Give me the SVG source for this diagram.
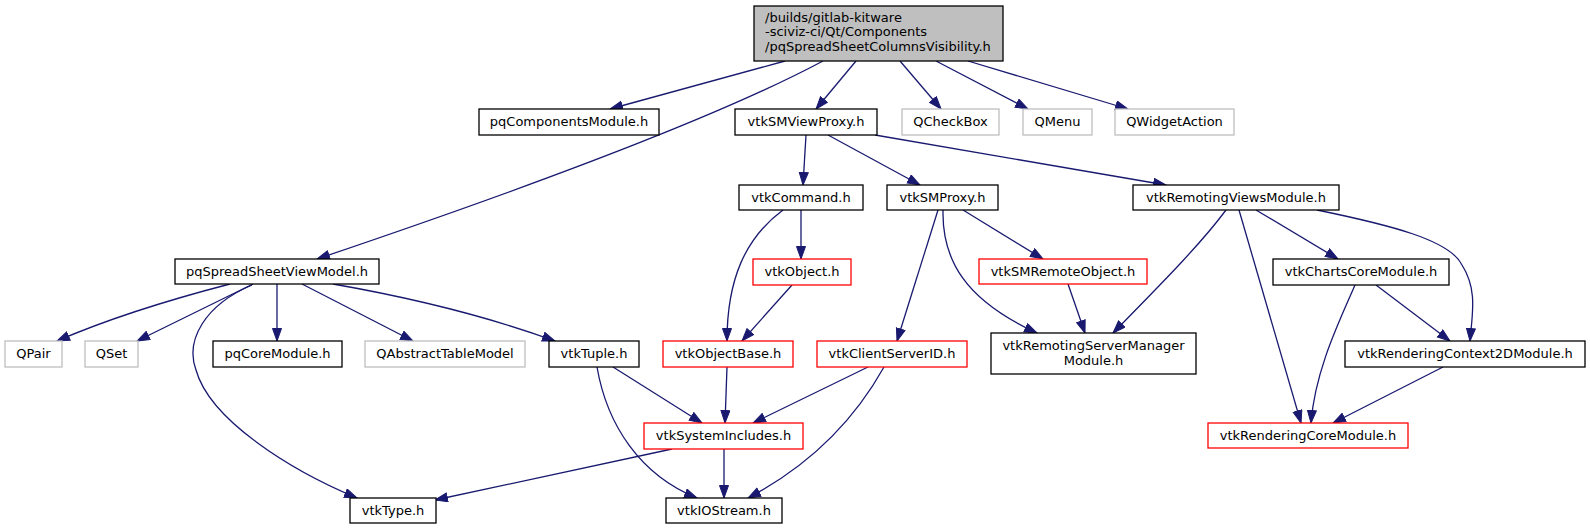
<svg xmlns="http://www.w3.org/2000/svg" width="1590" height="529" viewBox="0 0 1590 529">
<style>
text{font-family:"DejaVu Sans","Liberation Sans",sans-serif;font-size:13px;fill:#000}
.n rect{fill:#fff;stroke:#000;stroke-width:1.3}
.n text{text-anchor:middle}
.g rect{stroke:#bfbfbf}
.r rect{stroke:#ff0000}
.root rect{fill:#bfbfbf}
.root text{text-anchor:start}
#edges path{fill:none;stroke:#191970;stroke-width:1.3;marker-end:url(#ah)}
</style>
<defs>
<marker id="ah" markerWidth="15" markerHeight="11" refX="13" refY="5" orient="auto" markerUnits="userSpaceOnUse">
<path d="M0.5,0.5 L13,5 L0.5,9.5 z" fill="#191970" stroke="#191970" stroke-width="1"/>
</marker>
</defs>
<rect width="1590" height="529" fill="#fff"/>
<g id="edges">
<path d="M785,61 L610,109"/>
<path d="M823,61 C765,92 640,150 317,259"/>
<path d="M856,61 L816,109"/>
<path d="M900,61 L941,109"/>
<path d="M936,61 L1028,109"/>
<path d="M968,61 L1128,109"/>
<path d="M806,135 L803,185"/>
<path d="M828,135 L920,185"/>
<path d="M875,135 L1166,185"/>
<path d="M230,284 C180,297 110,318 57,341"/>
<path d="M253,284 L137,341"/>
<path d="M252,285 C205,305 185,340 196,370 C210,420 290,470 357,498"/>
<path d="M277,284 L277,341"/>
<path d="M302,284 L413,341"/>
<path d="M333,284 C390,294 470,310 555,341"/>
<path d="M801,210 L801,259"/>
<path d="M783,210 C745,238 727,280 727,341"/>
<path d="M792,285 L742,341"/>
<path d="M963,210 L1043,259"/>
<path d="M943,210 C942,260 965,300 1037,333"/>
<path d="M938,210 L897,341"/>
<path d="M1068,284 L1085,333"/>
<path d="M1226,210 C1200,245 1160,285 1113,333"/>
<path d="M1239,210 L1301,423"/>
<path d="M1256,210 L1338,259"/>
<path d="M1317,210 C1390,225 1450,240 1462,265 C1478,290 1472,315 1470,341"/>
<path d="M1355,285 C1340,320 1315,370 1311,423"/>
<path d="M1376,285 L1450,341"/>
<path d="M1443,367 L1333,423"/>
<path d="M613,367 L702,423"/>
<path d="M597,367 C607,425 640,475 697,498"/>
<path d="M727,367 L725,423"/>
<path d="M868,367 L753,423"/>
<path d="M884,367 C860,410 820,460 748,498"/>
<path d="M672,449 L435,500"/>
<path d="M724,449 L724,498"/>
</g>
<g id="root" class="n root"><rect x="754" y="6" width="249" height="55"/><text x="765" y="21.5">/builds/gitlab-kitware</text><text x="765" y="36">-sciviz-ci/Qt/Components</text><text x="765" y="50.5">/pqSpreadSheetColumnsVisibility.h</text></g>
<g id="pqComponentsModule" class="n"><rect x="479" y="109" width="180" height="26"/><text x="569" y="126">pqComponentsModule.h</text></g>
<g id="vtkSMViewProxy" class="n"><rect x="735" y="109" width="142" height="26"/><text x="806" y="126">vtkSMViewProxy.h</text></g>
<g id="QCheckBox" class="n g"><rect x="902" y="109" width="97" height="26"/><text x="950.5" y="126">QCheckBox</text></g>
<g id="QMenu" class="n g"><rect x="1023" y="109" width="69" height="26"/><text x="1057.5" y="126">QMenu</text></g>
<g id="QWidgetAction" class="n g"><rect x="1115" y="109" width="119" height="26"/><text x="1174.5" y="126">QWidgetAction</text></g>
<g id="vtkCommand" class="n"><rect x="739" y="185" width="124" height="25"/><text x="801" y="202">vtkCommand.h</text></g>
<g id="vtkSMProxy" class="n"><rect x="887" y="185" width="111" height="25"/><text x="942.5" y="202">vtkSMProxy.h</text></g>
<g id="vtkRemotingViewsModule" class="n"><rect x="1133" y="185" width="206" height="25"/><text x="1236" y="202">vtkRemotingViewsModule.h</text></g>
<g id="pqSpreadSheetViewModel" class="n"><rect x="175" y="259" width="204" height="25"/><text x="277" y="276">pqSpreadSheetViewModel.h</text></g>
<g id="vtkObject" class="n r"><rect x="753" y="259" width="98" height="26"/><text x="802" y="276">vtkObject.h</text></g>
<g id="vtkSMRemoteObject" class="n r"><rect x="979" y="259" width="168" height="25"/><text x="1063" y="276">vtkSMRemoteObject.h</text></g>
<g id="vtkChartsCoreModule" class="n"><rect x="1273" y="259" width="176" height="26"/><text x="1361" y="276">vtkChartsCoreModule.h</text></g>
<g id="QPair" class="n g"><rect x="5" y="341" width="57" height="26"/><text x="33.5" y="358">QPair</text></g>
<g id="QSet" class="n g"><rect x="85" y="341" width="53" height="26"/><text x="111.5" y="358">QSet</text></g>
<g id="pqCoreModule" class="n"><rect x="213" y="341" width="129" height="26"/><text x="277.5" y="358">pqCoreModule.h</text></g>
<g id="QAbstractTableModel" class="n g"><rect x="365" y="341" width="160" height="26"/><text x="445" y="358">QAbstractTableModel</text></g>
<g id="vtkTuple" class="n"><rect x="549" y="341" width="90" height="26"/><text x="594" y="358">vtkTuple.h</text></g>
<g id="vtkObjectBase" class="n r"><rect x="663" y="341" width="130" height="26"/><text x="728" y="358">vtkObjectBase.h</text></g>
<g id="vtkClientServerID" class="n r"><rect x="817" y="341" width="150" height="26"/><text x="892" y="358">vtkClientServerID.h</text></g>
<g id="vtkRemotingServerManagerModule" class="n"><rect x="991" y="333" width="205" height="41"/><text x="1093.5" y="350">vtkRemotingServerManager</text><text x="1093.5" y="364.5">Module.h</text></g>
<g id="vtkRenderingContext2DModule" class="n"><rect x="1345" y="341" width="240" height="26"/><text x="1465" y="358">vtkRenderingContext2DModule.h</text></g>
<g id="vtkSystemIncludes" class="n r"><rect x="644" y="423" width="159" height="26"/><text x="723.5" y="440">vtkSystemIncludes.h</text></g>
<g id="vtkRenderingCoreModule" class="n r"><rect x="1208" y="423" width="200" height="25"/><text x="1308" y="440">vtkRenderingCoreModule.h</text></g>
<g id="vtkType" class="n"><rect x="350" y="498" width="86" height="25"/><text x="393" y="515">vtkType.h</text></g>
<g id="vtkIOStream" class="n"><rect x="666" y="498" width="116" height="25"/><text x="724" y="515">vtkIOStream.h</text></g>
</svg>
